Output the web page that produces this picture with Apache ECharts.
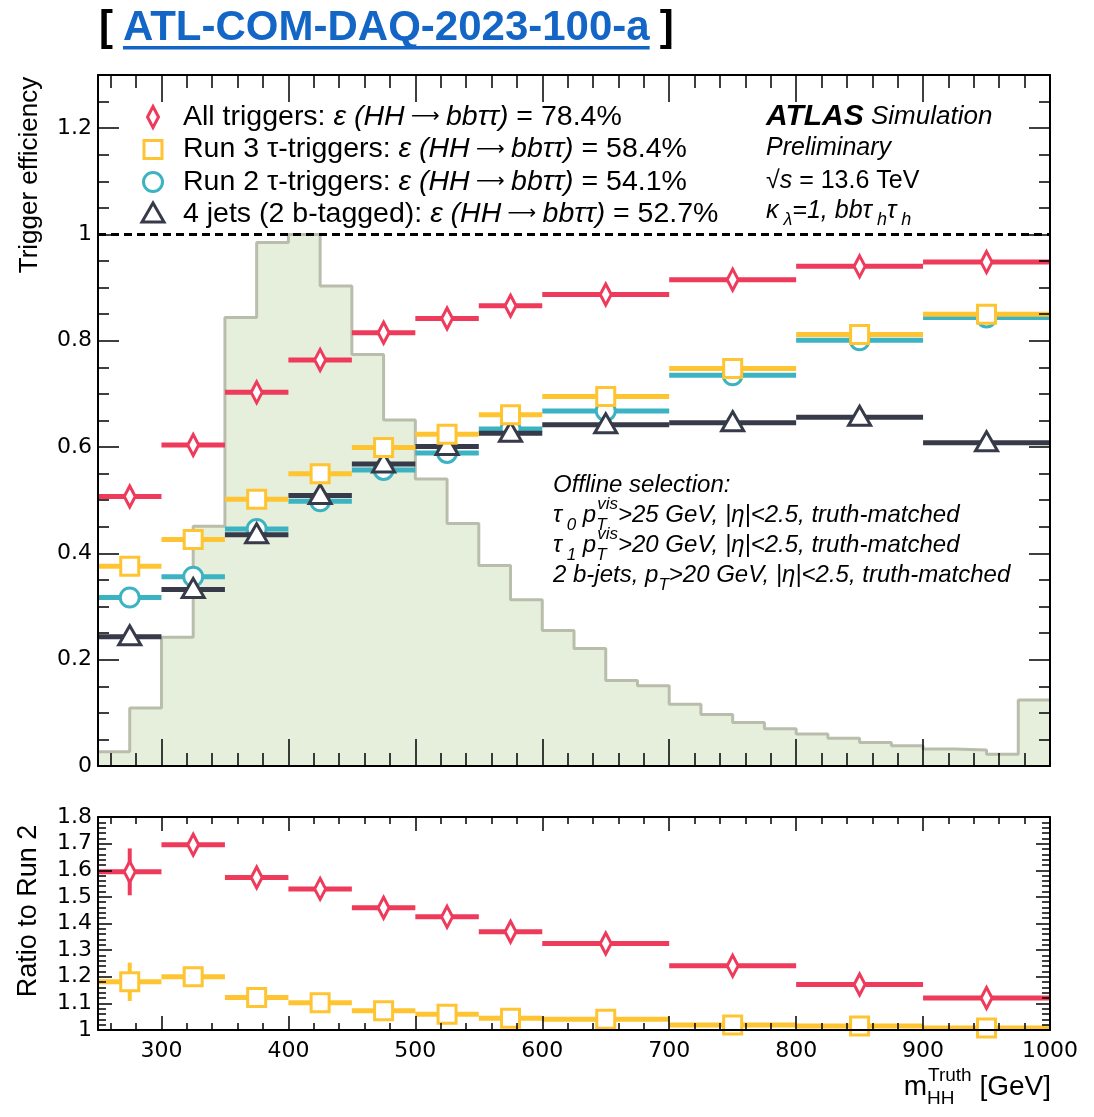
<!DOCTYPE html>
<html>
<head>
<meta charset="utf-8">
<script src="https://cdn.jsdelivr.net/npm/echarts@6/dist/echarts.min.js"></script>
<style>
  html, body { margin: 0; padding: 0; background: #fff; }
  #chart { width: 1094px; height: 1117px; }
</style>
</head>
<body>
<div id="chart"></div>
<script>
// m_HH^Truth binning of the efficiency points (GeV)
const binLow  = [250, 300, 350, 400, 450, 500, 550, 600, 700, 800, 900];
const binHigh = [300, 350, 400, 450, 500, 550, 600, 700, 800, 900, 1000];

// Trigger efficiencies per bin
const effAllTriggers = [0.507, 0.604, 0.703, 0.764, 0.815, 0.842, 0.866, 0.887, 0.915, 0.940, 0.948];
const effRun3Tau     = [0.376, 0.426, 0.502, 0.550, 0.599, 0.624, 0.661, 0.695, 0.748, 0.812, 0.850];
const effRun2Tau     = [0.317, 0.356, 0.446, 0.498, 0.557, 0.589, 0.634, 0.668, 0.735, 0.801, 0.844];
const eff4Jets       = [0.243, 0.332, 0.435, 0.509, 0.568, 0.601, 0.626, 0.642, 0.646, 0.656, 0.608];

// Ratios to the Run 2 tau triggers, with statistical uncertainties
const ratioAllTriggers    = [1.594, 1.696, 1.573, 1.530, 1.459, 1.425, 1.369, 1.325, 1.241, 1.171, 1.120];
const ratioAllTriggersErr = [0.088, 0.020, 0.012, 0.010, 0.008, 0.007, 0.006, 0.005, 0.005, 0.005, 0.005];
const ratioRun3Tau        = [1.181, 1.200, 1.1225, 1.1025, 1.0725, 1.059, 1.044, 1.040, 1.019, 1.015, 1.0075];
const ratioRun3TauErr     = [0.072, 0.014, 0.010, 0.008, 0.006, 0.005, 0.005, 0.004, 0.004, 0.004, 0.004];

// Signal m_HH^Truth shape (arbitrary normalisation, peak = 1), 25 GeV bins, last bin holds overflow
const histLow   = [250, 275, 300, 325, 350, 375, 400, 425, 450, 475,
                   500, 525, 550, 575, 600, 625, 650, 675, 700, 725,
                   750, 775, 800, 825, 850, 875, 900, 925, 950, 975];
const histShape = [0.027, 0.109, 0.242, 0.451, 0.844, 0.985, 1.000, 0.903, 0.774, 0.651,
                   0.540, 0.456, 0.377, 0.313, 0.255, 0.221, 0.161, 0.151, 0.116, 0.097,
                   0.082, 0.070, 0.060, 0.052, 0.044, 0.038, 0.032, 0.030, 0.022, 0.124];
const histUpperEdge = 1000;

// Legend entries
const seriesNames = ['All triggers: ', 'Run 3 τ-triggers: ', 'Run 2 τ-triggers: ', '4 jets (2 b-tagged): '];
const overallEff  = ['78.4%', '58.4%', '54.1%', '52.7%'];

// Axis ticks and labels
const xMajorTicks  = [300, 400, 500, 600, 700, 800, 900, 1000];
const yMainLabels  = [0, 0.2, 0.4, 0.6, 0.8, 1, 1.2];
const yRatioLabels = [1, 1.1, 1.2, 1.3, 1.4, 1.5, 1.6, 1.7, 1.8];

function steps(from, to, step) {
  const out = [];
  for (let v = from; v <= to + 1e-9; v += step) out.push(Math.round(v * 1000) / 1000);
  return out;
}
const xMinorTicks      = steps(260, 1000, 20);
const yMainMinorTicks  = steps(0, 1.3, 0.05);
const yRatioMinorTicks = steps(1, 1.8, 0.02);

const FONT = '"Liberation Sans", Arial, Helvetica, sans-serif';
const TICKFONT = '"DejaVu Sans", "Liberation Sans", sans-serif';

const C_ALL = '#EE3A5B';
const C_R3  = '#FFC431';
const C_R2  = '#3CB3C2';
const C_4J  = '#363A49';
const HIST_FILL = '#E6EFDB';
const HIST_LINE = '#B9BDAB';

const measureCtx = document.createElement('canvas').getContext('2d');
function textWidth(str, font) {
  measureCtx.font = font;
  return measureCtx.measureText(str).width;
}

// Open marker shapes (white-filled, coloured outline)
function markerShape(kind, cx, cy, color, z) {
  const style = { fill: '#fff', stroke: color, lineWidth: 3 };
  let el;
  if (kind === 'diamond') {
    el = { type: 'polygon', shape: { points: [[cx, cy - 10.5], [cx + 5.5, cy], [cx, cy + 10.5], [cx - 5.5, cy]] }, style };
  } else if (kind === 'square') {
    el = { type: 'rect', shape: { x: cx - 9, y: cy - 9, width: 18, height: 18 }, style };
  } else if (kind === 'circle') {
    el = { type: 'circle', shape: { cx: cx, cy: cy, r: 9.5 }, style };
  } else {
    el = { type: 'polygon', shape: { points: [[cx, cy - 11], [cx + 11, cy + 8], [cx - 11, cy + 8]] }, style };
  }
  if (z != null) el.z = z;
  return el;
}

// Horizontal bin-width bars with a marker at the bin centre (and optional vertical error bar)
function binSeries(name, kind, color, values, errors, xi, yi, z) {
  return {
    name: name,
    type: 'custom',
    xAxisIndex: xi,
    yAxisIndex: yi,
    z: z,
    clip: false,
    data: values.map((v, i) => [binLow[i], binHigh[i], v, errors ? errors[i] : 0]),
    encode: { x: [0, 1], y: 2 },
    renderItem: function (params, api) {
      const lo = api.value(0), hi = api.value(1), v = api.value(2), e = api.value(3);
      const mid = (lo + hi) / 2;
      const a = api.coord([lo, v]), b = api.coord([hi, v]), c = api.coord([mid, v]);
      const children = [{
        type: 'line',
        shape: { x1: a[0], y1: a[1], x2: b[0], y2: b[1] },
        style: { stroke: color, lineWidth: 5 }
      }];
      if (e > 0) {
        const t = api.coord([mid, v + e]), u = api.coord([mid, v - e]);
        children.push({ type: 'line', shape: { x1: t[0], y1: t[1], x2: u[0], y2: u[1] }, style: { stroke: color, lineWidth: 4 } });
      }
      children.push(markerShape(kind, c[0], c[1], color));
      return { type: 'group', children: children };
    }
  };
}

function xAx(grid, pos, ticks, len, showLine, labels) {
  return {
    type: 'value', gridIndex: grid, position: pos, min: 250, max: 1000, z: 10,
    axisLine: { show: showLine, onZero: false, lineStyle: { color: '#000', width: 2 } },
    axisTick: { show: true, inside: true, length: len, customValues: ticks, lineStyle: { color: '#000', width: 1.5 } },
    axisLabel: labels ? {
      show: true, customValues: labels, fontFamily: TICKFONT, fontSize: 22, color: '#000', margin: 10,
      formatter: v => String(Math.round(v))
    } : { show: false },
    splitLine: { show: false }
  };
}

function yAx(grid, pos, min, max, ticks, len, showLine, labels) {
  return {
    type: 'value', gridIndex: grid, position: pos, min: min, max: max, z: 10,
    axisLine: { show: showLine, onZero: false, lineStyle: { color: '#000', width: 2 } },
    axisTick: { show: true, inside: true, length: len, customValues: ticks, lineStyle: { color: '#000', width: 1.5 } },
    axisLabel: labels ? {
      show: true, customValues: labels, fontFamily: TICKFONT, fontSize: 22, color: '#000', margin: 6,
      formatter: v => String(+(+v).toFixed(2))
    } : { show: false },
    splitLine: { show: false }
  };
}

// Histogram outline points (step held until the next edge)
const histPoints = histLow.map((x, i) => [x, histShape[i]]);
histPoints.push([histUpperEdge, histShape[histShape.length - 1]]);

// ---------- text annotations ----------
const graphics = [];

// Header with the reference link
const titleText = 'ATL-COM-DAQ-2023-100-a';
const titleSize = 42;
const titleWidth = textWidth(titleText, 'bold ' + titleSize + 'px ' + FONT);
const titleX = 123, titleCenterY = 28;
graphics.push({ type: 'text', x: 99, y: titleCenterY,
  style: { text: '[', fontFamily: FONT, fontSize: titleSize, fontWeight: 'bold', fill: '#000', verticalAlign: 'middle' } });
graphics.push({ type: 'text', x: titleX, y: titleCenterY,
  style: { text: titleText, fontFamily: FONT, fontSize: titleSize, fontWeight: 'bold', fill: '#1466C6', verticalAlign: 'middle' } });
graphics.push({ type: 'rect', shape: { x: titleX, y: 46, width: titleWidth, height: 3.5 }, style: { fill: '#1466C6' } });
graphics.push({ type: 'text', x: titleX + titleWidth + 10, y: titleCenterY,
  style: { text: ']', fontFamily: FONT, fontSize: titleSize, fontWeight: 'bold', fill: '#000', verticalAlign: 'middle' } });

// Axis titles
graphics.push({ type: 'text', x: 30, y: 175, rotation: Math.PI / 2,
  style: { text: 'Trigger efficiency', fontFamily: FONT, fontSize: 26, fill: '#000', align: 'center', verticalAlign: 'middle' } });
graphics.push({ type: 'text', x: 29, y: 911, rotation: Math.PI / 2,
  style: { text: 'Ratio to Run 2', fontFamily: FONT, fontSize: 27, fill: '#000', align: 'center', verticalAlign: 'middle' } });

// x-axis title, right-aligned to the frame edge
const xTitleRight = 1051;
const xTitleWidth = textWidth('m', '28px ' + FONT) + 1 + textWidth('Truth', '19px ' + FONT) + textWidth(' [GeV]', '28px ' + FONT);
graphics.push({ type: 'text', x: xTitleRight - xTitleWidth, y: 1087,
  style: {
    text: '{m|m}{sub|HH}{sup|Truth}{m| [GeV]}', align: 'left', verticalAlign: 'middle',
    rich: {
      m:   { fontFamily: FONT, fontSize: 28, fill: '#000', lineHeight: 42, verticalAlign: 'middle' },
      sub: { fontFamily: FONT, fontSize: 19, fill: '#000', lineHeight: 19, verticalAlign: 'bottom', width: 1, align: 'left' },
      sup: { fontFamily: FONT, fontSize: 19, fill: '#000', lineHeight: 19, verticalAlign: 'top' }
    }
  } });

// Legend
const legendKinds  = ['diamond', 'square', 'circle', 'triangle'];
const legendColors = [C_ALL, C_R3, C_R2, C_4J];
const legendY = [117, 149.5, 182, 214];
seriesNames.forEach((name, i) => {
  graphics.push(markerShape(legendKinds[i], 153, legendY[i], legendColors[i], 20));
  graphics.push({ type: 'text', x: 183, y: legendY[i], z: 20,
    style: {
      text: '{n|' + name + '}{e|ε (HH}{r| ⟶ }{e|bbττ)}{n| = ' + overallEff[i] + '}',
      verticalAlign: 'middle',
      rich: {
        n: { fontFamily: FONT, fontSize: 28.5, fill: '#000' },
        e: { fontFamily: FONT, fontSize: 28.5, fontStyle: 'italic', fill: '#000' },
        r: { fontFamily: TICKFONT, fontSize: 20, fill: '#000' }
      }
    } });
});

// ATLAS label block
const atlasRich = {
  a:   { fontFamily: FONT, fontSize: 30, fontWeight: 'bold', fontStyle: 'italic', fill: '#000' },
  s:   { fontFamily: FONT, fontSize: 26, fontStyle: 'italic', fill: '#000' },
  n:   { fontFamily: FONT, fontSize: 25, fill: '#000', lineHeight: 36, verticalAlign: 'middle' },
  i:   { fontFamily: FONT, fontSize: 25, fontStyle: 'italic', fill: '#000', lineHeight: 36, verticalAlign: 'middle' },
  sub: { fontFamily: FONT, fontSize: 18, fontStyle: 'italic', fill: '#000', lineHeight: 18, verticalAlign: 'bottom' }
};
const atlasLines = [
  ['{a|ATLAS}{s| Simulation}', 117],
  ['{i|Preliminary}', 148],
  ['{n|√}{i|s}{n| = 13.6 TeV}', 181],
  ['{i|κ}{sub| λ}{i|=1, bbτ}{sub| h}{i|τ}{sub| h}', 211]
];
atlasLines.forEach(([txt, y]) => {
  graphics.push({ type: 'text', x: 766, y: y, z: 20,
    style: { text: txt, verticalAlign: 'middle', rich: atlasRich } });
});

// Offline selection block
const selRich = {
  n:    { fontFamily: FONT, fontSize: 24, fontStyle: 'italic', fill: '#000', lineHeight: 38, verticalAlign: 'middle' },
  sub:  { fontFamily: FONT, fontSize: 17, fontStyle: 'italic', fill: '#000', lineHeight: 17, verticalAlign: 'bottom' },
  subT: { fontFamily: FONT, fontSize: 17, fontStyle: 'italic', fill: '#000', lineHeight: 17, verticalAlign: 'bottom', width: 1, align: 'left' },
  sup:  { fontFamily: FONT, fontSize: 17, fontStyle: 'italic', fill: '#000', lineHeight: 17, verticalAlign: 'top' }
};
const selLines = [
  ['{n|Offline selection:}', 485],
  ['{n|τ}{sub| 0}{n| p}{subT|T}{sup|vis}{n|>25 GeV, |η|<2.5, truth-matched}', 515],
  ['{n|τ}{sub| 1}{n| p}{subT|T}{sup|vis}{n|>20 GeV, |η|<2.5, truth-matched}', 545],
  ['{n|2 b-jets, p}{sub|T}{n|>20 GeV, |η|<2.5, truth-matched}', 575]
];
selLines.forEach(([txt, y]) => {
  graphics.push({ type: 'text', x: 553, y: y, z: 20,
    style: { text: txt, verticalAlign: 'middle', rich: selRich } });
});

const chart = echarts.init(document.getElementById('chart'), null, { renderer: 'canvas' });
chart.setOption({
  animation: false,
  backgroundColor: '#fff',
  grid: [
    { left: 98, top: 75, width: 952, height: 691 },
    { left: 98, top: 817, width: 952, height: 213 }
  ],
  xAxis: [
    xAx(0, 'bottom', xMajorTicks, 27, true, null),
    xAx(0, 'bottom', xMinorTicks, 13, false, null),
    xAx(0, 'top', xMajorTicks, 27, true, null),
    xAx(0, 'top', xMinorTicks, 13, false, null),
    xAx(1, 'bottom', xMajorTicks, 14, true, xMajorTicks),
    xAx(1, 'bottom', xMinorTicks, 7, false, null),
    xAx(1, 'top', xMajorTicks, 14, true, null),
    xAx(1, 'top', xMinorTicks, 7, false, null)
  ],
  yAxis: [
    yAx(0, 'left', 0, 1.3, yMainLabels, 21, true, yMainLabels),
    yAx(0, 'left', 0, 1.3, yMainMinorTicks, 11, false, null),
    yAx(0, 'right', 0, 1.3, yMainLabels, 21, true, null),
    yAx(0, 'right', 0, 1.3, yMainMinorTicks, 11, false, null),
    yAx(1, 'left', 1, 1.8, yRatioLabels, 14, true, yRatioLabels),
    yAx(1, 'left', 1, 1.8, yRatioMinorTicks, 8, false, null),
    yAx(1, 'right', 1, 1.8, yRatioLabels, 14, true, null),
    yAx(1, 'right', 1, 1.8, yRatioMinorTicks, 8, false, null)
  ],
  series: [
    {
      name: 'm_HH shape',
      type: 'line',
      step: 'end',
      xAxisIndex: 0,
      yAxisIndex: 0,
      z: 1,
      symbol: 'none',
      data: histPoints,
      lineStyle: { color: HIST_LINE, width: 3 },
      areaStyle: { color: HIST_FILL, opacity: 1 },
      markLine: {
        silent: true,
        symbol: 'none',
        label: { show: false },
        lineStyle: { color: '#000', type: [8, 5], width: 3 },
        data: [{ yAxis: 1 }]
      }
    },
    binSeries('Run 2 τ-triggers', 'circle', C_R2, effRun2Tau, null, 0, 0, 3),
    binSeries('4 jets (2 b-tagged)', 'triangle', C_4J, eff4Jets, null, 0, 0, 4),
    binSeries('Run 3 τ-triggers', 'square', C_R3, effRun3Tau, null, 0, 0, 5),
    binSeries('All triggers', 'diamond', C_ALL, effAllTriggers, null, 0, 0, 6),
    binSeries('Run 3 / Run 2', 'square', C_R3, ratioRun3Tau, ratioRun3TauErr, 4, 4, 5),
    binSeries('All / Run 2', 'diamond', C_ALL, ratioAllTriggers, ratioAllTriggersErr, 4, 4, 6)
  ],
  graphic: graphics
});
</script>
</body>
</html>
